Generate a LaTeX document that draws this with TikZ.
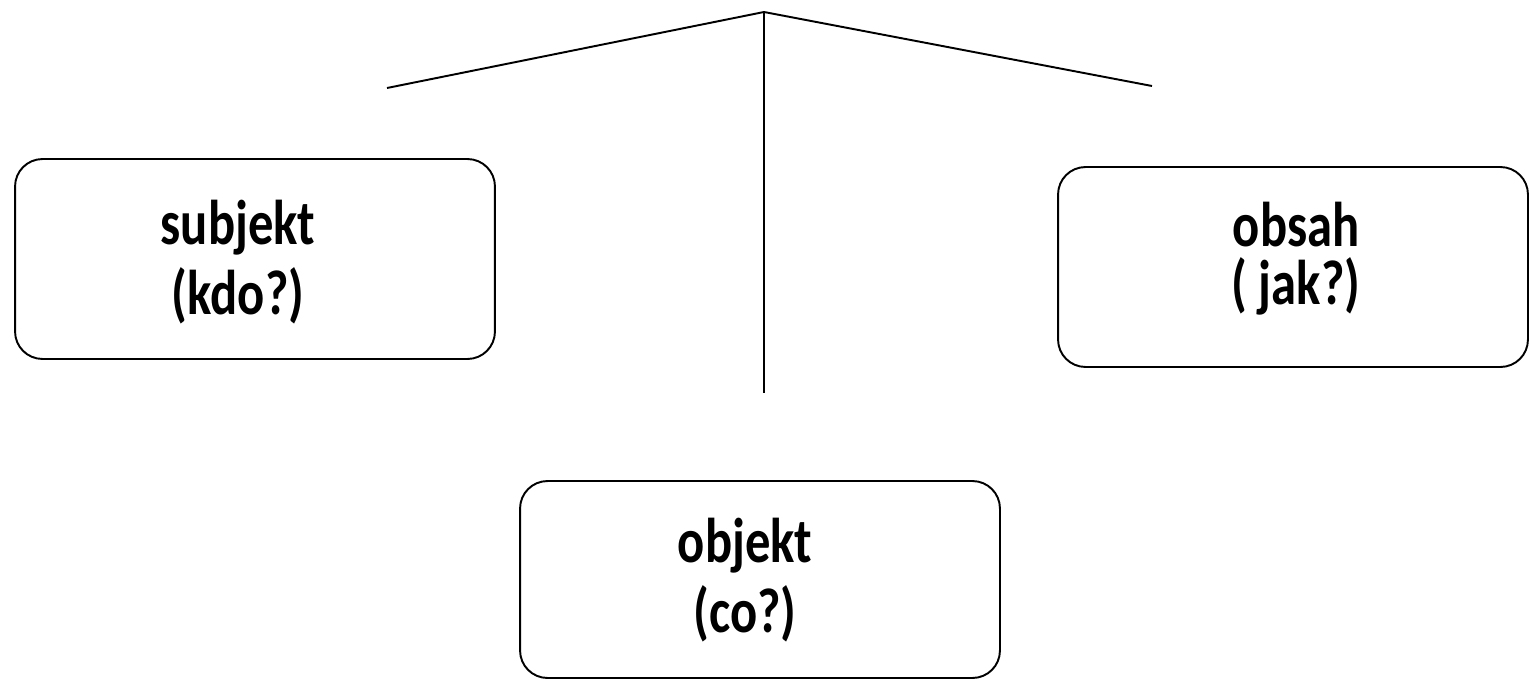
\documentclass[tikz,border=0pt]{standalone}
\usepackage{fontspec}
\setmainfont{Carlito}
\newfontfamily\boxfont[FakeStretch=0.8]{Carlito}
\begin{document}
\begin{tikzpicture}[x=0.02cm,y=-0.02cm,line width=1.1pt,box/.style={shape=rectangle,draw=black,rounded corners=0.55cm,minimum width=9.6cm,minimum height=4cm,inner sep=0pt},boxR/.style={box,minimum width=9.4cm},lbl/.style={align=center,inner sep=0pt,font=\boxfont\fontsize{36}{40}\selectfont\bfseries}]
\useasboundingbox (0,0) rectangle (1530,679);

\coordinate (top) at (764,12);
\coordinate (L) at (387,88);
\coordinate (R) at (1152,86);
\coordinate (bot) at (764,393);
\draw (L) -- (top) -- (R);
\draw (top) -- (bot);

\node[box] (subj) at (255,259) {};
\node[lbl] (subjT) at (238,262) {subjekt\\(kdo?)};

\node[boxR] (obsah) at (1293,267) {};
\node[lbl] (obsahT) at (1296,259) {obsah\\[-7pt]( jak?)};

\node[box,minimum height=3.94cm] (obj) at (760,579.5) {};
\node[lbl] (objT) at (745,580) {objekt\\(co?)};
\end{tikzpicture}
\end{document}
